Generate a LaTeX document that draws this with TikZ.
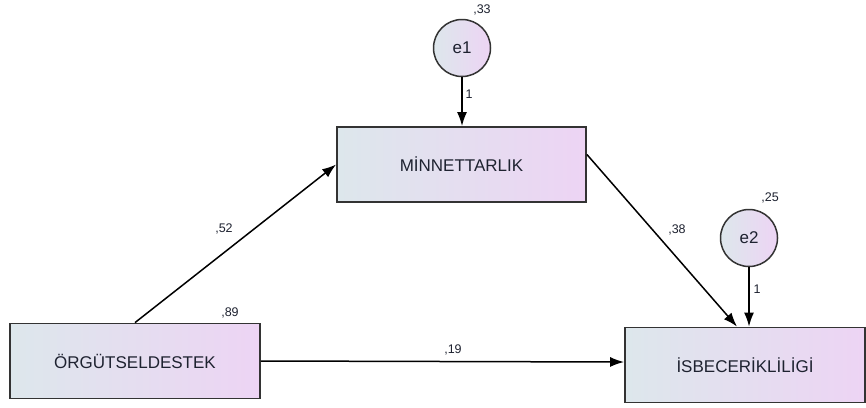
\documentclass[tikz,border=0pt]{standalone}
\usepackage{fontspec}
\setmainfont{Liberation Sans}
\usetikzlibrary{arrows.meta}
\definecolor{lc}{HTML}{DDE7EC}
\definecolor{rc}{HTML}{EDD4F4}
\definecolor{bd}{HTML}{333333}
\definecolor{tx}{HTML}{1E2230}
\begin{document}
\begin{tikzpicture}[x=1pt,y=-1pt,
  varbox/.style={draw=bd,line width=1.8pt,left color=lc,right color=rc,minimum height=75pt,inner sep=0pt,text=tx,font=\fontsize{17}{19}\selectfont},
  errc/.style={draw=bd,line width=1.5pt,circle,left color=lc,right color=rc,minimum size=57pt,inner sep=0pt,text=tx,font=\fontsize{17}{19}\selectfont},
  lab/.style={inner sep=0pt,text=tx,font=\fontsize{12.5}{14}\selectfont},
  arr/.style={-{Latex[length=14pt,width=10pt]},line width=1.5pt,draw=black}]
\useasboundingbox[fill=white] (0,0) rectangle (866,407);
\node[varbox,minimum width=249pt] (M) at (461.5,164.5) {MİNNETTARLIK};
\node[varbox,minimum width=250pt] (O) at (135,361) {ÖRGÜTSELDESTEK};
\node[varbox,minimum width=240pt] (I) at (745,365) {İSBECERİKLİLİGİ};
\node[errc] (E1) at (462,48) {e1};
\node[errc] (E2) at (749,238) {e2};
\draw[arr] (E1) -- (E1 |- M.north);
\draw[arr] (E2) -- (E2 |- I.north);
\draw[arr] (O.north) -- (M.west);
\draw[arr] ([yshift=10pt]M.east) -- ([xshift=-8pt]I.north);
\draw[arr] (O.east) -- ([yshift=3pt]I.west);
\node[lab] (l33) at (482,10) {,33};
\node[lab] (l1a) at (469,94) {1};
\node[lab] (l89) at (230,313) {,89};
\node[lab] (l25) at (770,198) {,25};
\node[lab] (l1b) at (757,289) {1};
\node[lab] (l38) at (677,230) {,38};
\node[lab] (l52) at (224,229) {,52};
\node[lab] (l19) at (453,350) {,19};
\end{tikzpicture}
\end{document}
